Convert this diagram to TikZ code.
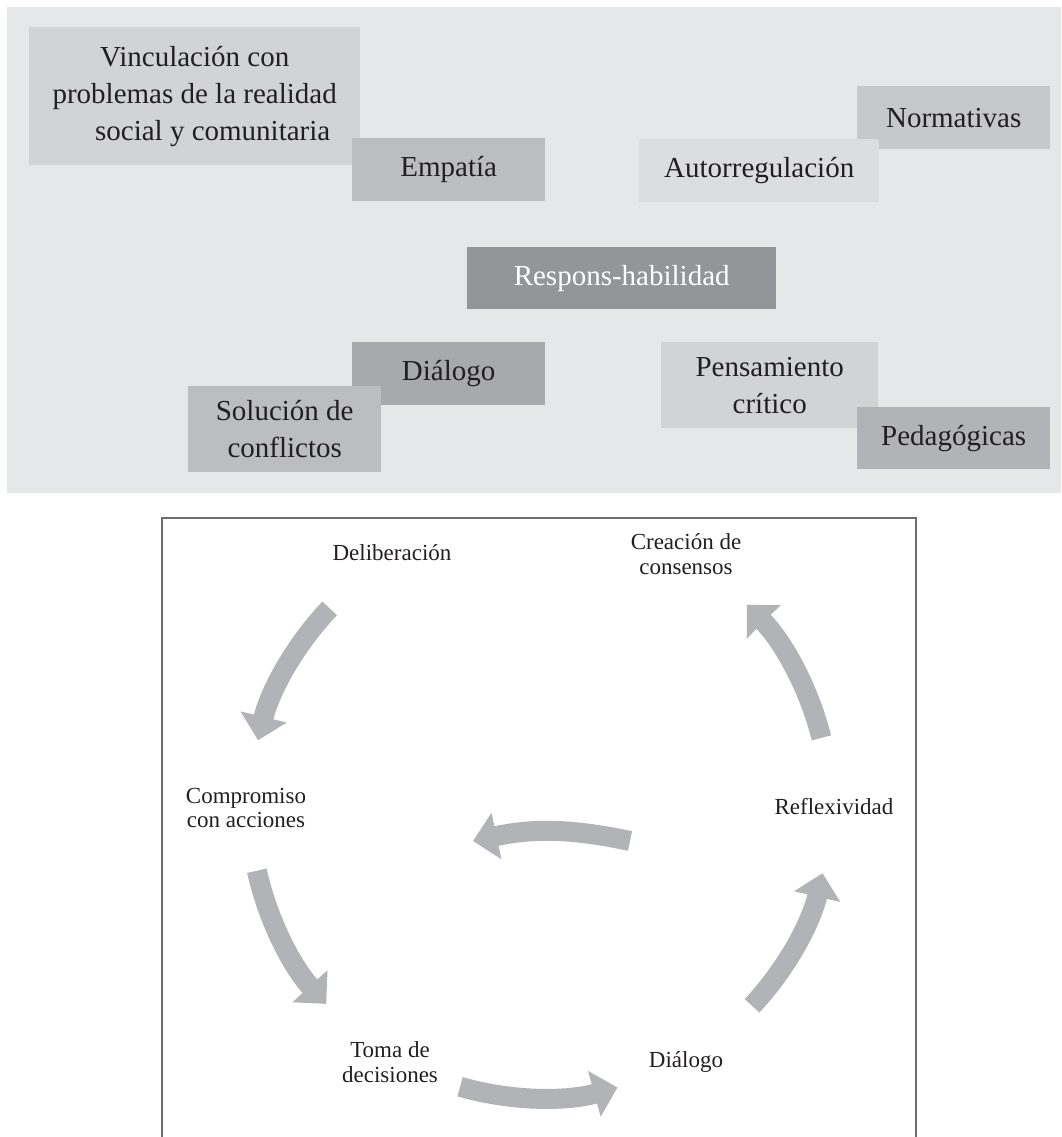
\documentclass[tikz,border=0pt]{standalone}
\usepackage{fontspec}
\setmainfont{Liberation Serif}
\usetikzlibrary{arrows.meta}

% panel and box fills
\definecolor{panelgray}{RGB}{230,231,232}
\definecolor{toneA}{RGB}{209,211,212}
\definecolor{toneB}{RGB}{187,189,191}
\definecolor{toneC}{RGB}{220,221,222}
\definecolor{toneD}{RGB}{199,200,202}
\definecolor{toneE}{RGB}{147,149,152}
\definecolor{toneF}{RGB}{167,169,172}
\definecolor{toneG}{RGB}{177,179,182}
\definecolor{inkgray}{RGB}{35,31,32}
\definecolor{cyclegray}{RGB}{177,179,182}
\definecolor{framegray}{RGB}{109,110,113}

\begin{document}
\begin{tikzpicture}[x=1pt,y=1pt,
  tag/.style={rectangle, inner sep=0pt, anchor=north west, align=center,
    text=inkgray, font=\fontsize{29}{37}\selectfont},
  cyclelabel/.style={inner sep=0pt, align=center, text=inkgray,
    font=\fontsize{23}{24.5}\selectfont},
  cyclearrow/.style={draw=cyclegray, line width=20pt,
    -{Triangle[length=24pt,width=46pt]}}]

\useasboundingbox[fill=white] (0,0) rectangle (1061,-1137);

% ---------- upper panel: competences around "Respons-habilidad" ----------
\fill[panelgray] (7,-7) rectangle (1061,-493);

\node[tag, fill=toneA, minimum width=331pt, minimum height=138pt] (vinc) at (29,-27)
  {Vinculación con\\problemas de la realidad\\\hspace*{36pt}social y comunitaria};
\node[tag, fill=toneB, minimum width=193pt, minimum height=63pt] (empatia) at (352,-138) {Empatía};

\node[tag, fill=toneD, minimum width=193pt, minimum height=63pt] (normas) at (857,-86) {Normativas};
\node[tag, fill=toneC, minimum width=240pt, minimum height=63pt] (autorreg) at (639,-139) {Autorregulación};

\node[tag, fill=toneE, text=white, minimum width=309pt, minimum height=62pt] (resp) at (467,-247) {Respons-habilidad};

\node[tag, fill=toneF, minimum width=193pt, minimum height=63pt] (dialogoA) at (352,-342) {Diálogo};
\node[tag, fill=toneB, minimum width=193pt, minimum height=86pt] (solucion) at (188,-386) {Solución de\\conflictos};

\node[tag, fill=toneA, minimum width=217pt, minimum height=86pt] (pensam) at (661,-342) {Pensamiento\\crítico};
\node[tag, fill=toneG, minimum width=193pt, minimum height=62pt] (pedag) at (857,-407) {Pedagógicas};

% ---------- lower frame: the cycle ----------
\draw[framegray, line width=2.5pt] (162,-1145) -- (162,-518) -- (916,-518) -- (916,-1145);

\coordinate (hub) at (540,-808);

\node[cyclelabel] (delib) at (392,-553) {Deliberación};
\node[cyclelabel] (consen) at (686,-554) {Creación de\\consensos};
\node[cyclelabel] (compro) at (246,-808) {Compromiso\\con acciones};
\node[cyclelabel] (reflex) at (834,-807) {Reflexividad};
\node[cyclelabel] (toma) at (390,-1062) {Toma de\\decisiones};
\node[cyclelabel] (dialogoB) at (686,-1062) {Diálogo};

% arrow ends on the ring around the hub
\coordinate (a1s) at ([shift={(136.5:290)}]hub);
\coordinate (a2s) at ([shift={(192.5:290)}]hub);
\coordinate (a3s) at ([shift={(254:290)}]hub);
\coordinate (a4s) at ([shift={(317:290)}]hub);
\coordinate (a5s) at ([shift={(14:290)}]hub);

\draw[cyclearrow] (a1s) arc[start angle=136.5, end angle=166.5, radius=290];
\draw[cyclearrow] (a2s) arc[start angle=192.5, end angle=222.5, radius=290];
\draw[cyclearrow] (a3s) arc[start angle=254, end angle=285.5, radius=290];
\draw[cyclearrow] (a4s) arc[start angle=317, end angle=347, radius=290];
\draw[cyclearrow] (a5s) arc[start angle=14, end angle=44.5, radius=290];

% inner arrow back towards "Compromiso con acciones"
\coordinate (a6s) at (630,-841);
\coordinate (a6e) at (473,-841);
\draw[cyclearrow] (a6s) to[bend right=12] (a6e);

\end{tikzpicture}
\end{document}
